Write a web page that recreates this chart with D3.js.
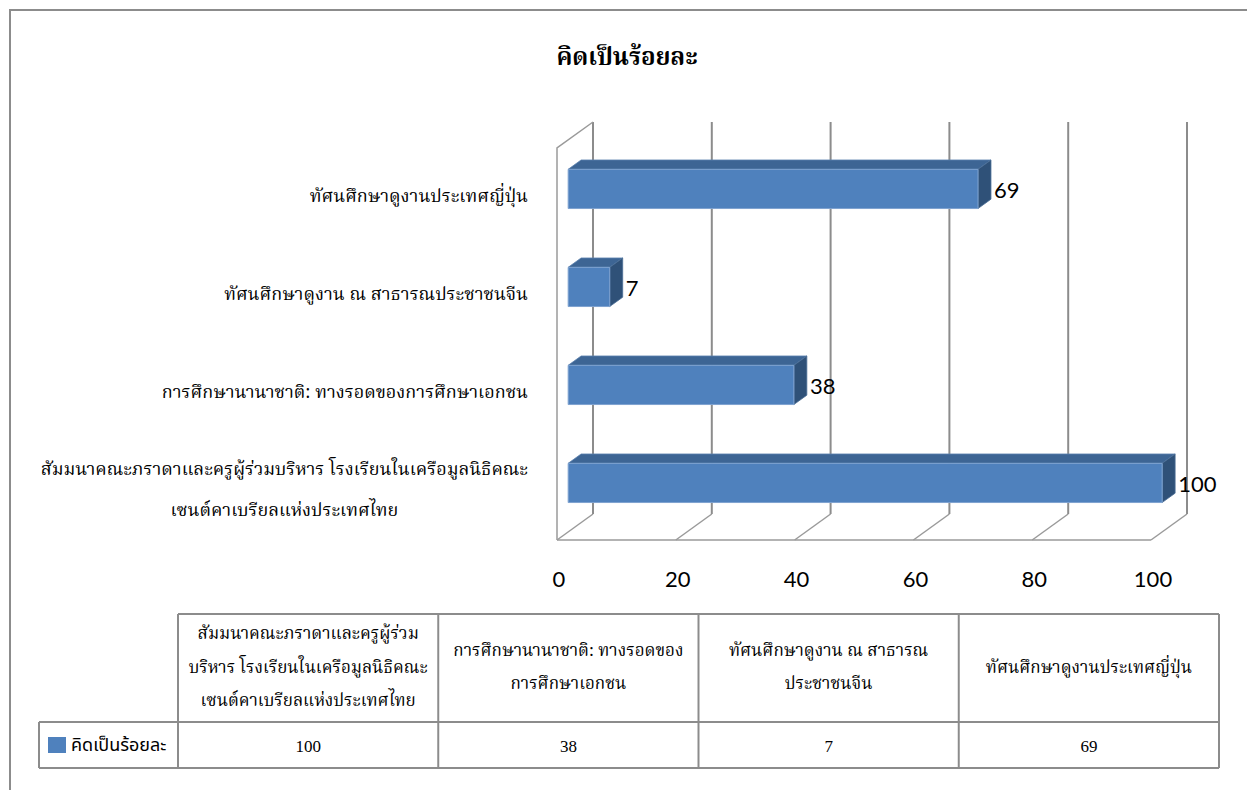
<!DOCTYPE html>
<html>
<head>
<meta charset="utf-8">
<script src="https://cdn.jsdelivr.net/npm/d3@7"></script>
<style>
  body { margin: 0; background: #fff; }
  svg { display: block; }
  .thai { font-family: "Noto Serif Thai", "Noto Sans Thai", "Liberation Serif", serif; }
  .num { font-family: Lato, "Open Sans", sans-serif; }
</style>
</head>
<body>
<svg id="chart" width="1247" height="790"></svg>
<script>
// data
const categories = ["seminar", "intl", "china", "japan"]; // bottom to top in the chart, left to right in the table
const values = [100, 38, 7, 69];
const seriesName = "คิดเป็นร้อยละ";
const axisTicks = [0, 20, 40, 60, 80, 100];
const axisLabels = [
  ["สัมมนาคณะภราดาและครูผู้ร่วมบริหาร โรงเรียนในเครือมูลนิธิคณะ", "เซนต์คาเบรียลแห่งประเทศไทย"],
  ["การศึกษานานาชาติ: ทางรอดของการศึกษาเอกชน"],
  ["ทัศนศึกษาดูงาน ณ สาธารณประชาชนจีน"],
  ["ทัศนศึกษาดูงานประเทศญี่ปุ่น"]
];
const tableHeaders = [
  ["สัมมนาคณะภราดาและครูผู้ร่วม", "บริหาร โรงเรียนในเครือมูลนิธิคณะ", "เซนต์คาเบรียลแห่งประเทศไทย"],
  ["การศึกษานานาชาติ: ทางรอดของ", "การศึกษาเอกชน"],
  ["ทัศนศึกษาดูงาน ณ สาธารณ", "ประชาชนจีน"],
  ["ทัศนศึกษาดูงานประเทศญี่ปุ่น"]
];

const svg = d3.select("#chart");

// outer frame (only top & left edges show)
svg.append("path")
  .attr("d", "M10,790V10H1247")
  .attr("fill", "none").attr("stroke", "#8c8c8c").attr("stroke-width", 2);

// title
svg.append("text")
  .attr("class", "thai")
  .attr("x", 627).attr("y", 58)
  .attr("text-anchor", "middle").attr("dominant-baseline", "central")
  .attr("font-size", 24).attr("font-weight", "bold")
  .text(seriesName);

// scales
const x = d3.scaleLinear().domain([0, 100]).range([557, 1151]);
const y = d3.scaleBand().domain(categories).range([540, 148]);
const DX = 36, DY = -26; // depth offset of back wall
const P = (xv, yv, z) => [xv + z * DX, yv + z * DY];
const z0 = 0.31, z1 = 0.67; // bar depth
const barH = y.bandwidth() * 0.4;

// walls & gridlines
const grid = svg.append("g").attr("fill", "none");
const plotTop = y.range()[1], plotBottom = y.range()[0];
axisTicks.forEach(t => {
  const b0 = P(x(t), plotTop, 1), b1 = P(x(t), plotBottom, 1), f = P(x(t), plotBottom, 0);
  grid.append("line").attr("x1", b0[0]).attr("y1", b0[1]).attr("x2", b1[0]).attr("y2", b1[1])
    .attr("stroke", "#8c8c8c").attr("stroke-width", 2);
  grid.append("line").attr("x1", f[0]).attr("y1", f[1]).attr("x2", b1[0]).attr("y2", b1[1])
    .attr("stroke", "#9a9a9a").attr("stroke-width", 1.5);
});
// floor front edge
grid.append("line").attr("x1", x(0)).attr("y1", plotBottom).attr("x2", x(100)).attr("y2", plotBottom)
  .attr("stroke", "#9a9a9a").attr("stroke-width", 1.5);
// left side wall
const lt = P(x(0), plotTop, 1);
grid.append("path")
  .attr("d", `M${x(0)},${plotBottom}V${plotTop}L${lt[0]},${lt[1]}`)
  .attr("stroke", "#9a9a9a").attr("stroke-width", 1.5);

// bars
const poly = pts => "M" + pts.map(p => p.join(",")).join("L") + "Z";
const bars = svg.append("g").selectAll("g")
  .data(categories.map((c, i) => ({ c, v: values[i] })))
  .join("g");

bars.each(function(d) {
  const g = d3.select(this);
  const x0 = x(0), x1 = x(d.v);
  const yc = y(d.c) + y.bandwidth() / 2;
  const yt = yc - barH / 2, yb = yc + barH / 2;
  g.append("path").attr("d", poly([P(x0, yt, z0), P(x1, yt, z0), P(x1, yt, z1), P(x0, yt, z1)]))
    .attr("fill", "#3d6594").attr("stroke", "#5b80ad").attr("stroke-width", 0.8);
  g.append("path").attr("d", poly([P(x1, yt, z0), P(x1, yt, z1), P(x1, yb, z1), P(x1, yb, z0)]))
    .attr("fill", "#2f5178").attr("stroke", "#4a6d96").attr("stroke-width", 0.8);
  g.append("path").attr("d", poly([P(x0, yt, z0), P(x1, yt, z0), P(x1, yb, z0), P(x0, yb, z0)]))
    .attr("fill", "#4f81bd").attr("stroke", "#7fa3d0").attr("stroke-width", 1);
  const lp = P(x1, yc, z0);
  g.append("text").attr("class", "num")
    .attr("x", lp[0] + 16).attr("y", lp[1] + 1)
    .attr("dominant-baseline", "central")
    .attr("font-size", 22).attr("fill", "#000")
    .text(d.v);
});

// x tick labels
svg.append("g").selectAll("text").data(axisTicks).join("text")
  .attr("class", "num")
  .attr("x", d => x(d) + 2).attr("y", 578)
  .attr("text-anchor", "middle").attr("dominant-baseline", "central")
  .attr("font-size", 22)
  .text(d => d);

// category labels (right-aligned block, lines centered within it)
const labelRight = 528, lineGap = 41;
categories.forEach((c, i) => {
  const lines = axisLabels[i];
  const yc = y(c) + y.bandwidth() / 2;
  const g = svg.append("g");
  const texts = g.selectAll("text").data(lines).join("text")
    .attr("class", "thai")
    .attr("y", (d, j) => yc + (j - (lines.length - 1) / 2) * lineGap)
    .attr("dominant-baseline", "central")
    .attr("text-anchor", "middle")
    .attr("font-size", 18)
    .text(d => d);
  let w = 0;
  texts.each(function() { w = Math.max(w, this.getComputedTextLength()); });
  texts.attr("x", labelRight - w / 2);
});

// data table
const tx = d3.scaleBand().domain(categories).range([178, 1219]);
const tTop = 614, tMid = 722, tBot = 768, tLeft = 39;
const tbl = svg.append("g").attr("stroke", "#8c8c8c").attr("stroke-width", 2).attr("fill", "none");
tbl.append("path").attr("d", `M${tx.range()[0]},${tTop}H${tx.range()[1]}M${tLeft},${tMid}H${tx.range()[1]}M${tLeft},${tBot}H${tx.range()[1]}M${tLeft},${tMid}V${tBot}`);
tbl.selectAll("line").data(categories.concat(["end"])).join("line")
  .attr("x1", d => d === "end" ? tx.range()[1] : tx(d))
  .attr("x2", d => d === "end" ? tx.range()[1] : tx(d))
  .attr("y1", tTop).attr("y2", tBot);

categories.forEach((c, i) => {
  const lines = tableHeaders[i];
  const cx = tx(c) + tx.bandwidth() / 2;
  svg.append("g").selectAll("text").data(lines).join("text")
    .attr("class", "thai")
    .attr("x", cx)
    .attr("y", (d, j) => (tTop + tMid) / 2 + (j - (lines.length - 1) / 2) * 33.5)
    .attr("text-anchor", "middle").attr("dominant-baseline", "central")
    .attr("font-size", 17)
    .text(d => d);
  svg.append("text")
    .attr("x", cx).attr("y", (tMid + tBot) / 2 + 1)
    .attr("text-anchor", "middle").attr("dominant-baseline", "central")
    .attr("font-family", "'Liberation Serif', serif")
    .attr("font-size", 17)
    .text(values[i]);
});

// legend key in table
svg.append("rect").attr("x", 48).attr("y", 737).attr("width", 18).attr("height", 16).attr("fill", "#4f81bd");
svg.append("text")
  .attr("x", 71).attr("y", 745)
  .attr("dominant-baseline", "central")
  .attr("font-family", "'Noto Sans Thai', 'Noto Sans', sans-serif")
  .attr("font-size", 18)
  .text(seriesName);
</script>
</body>
</html>
